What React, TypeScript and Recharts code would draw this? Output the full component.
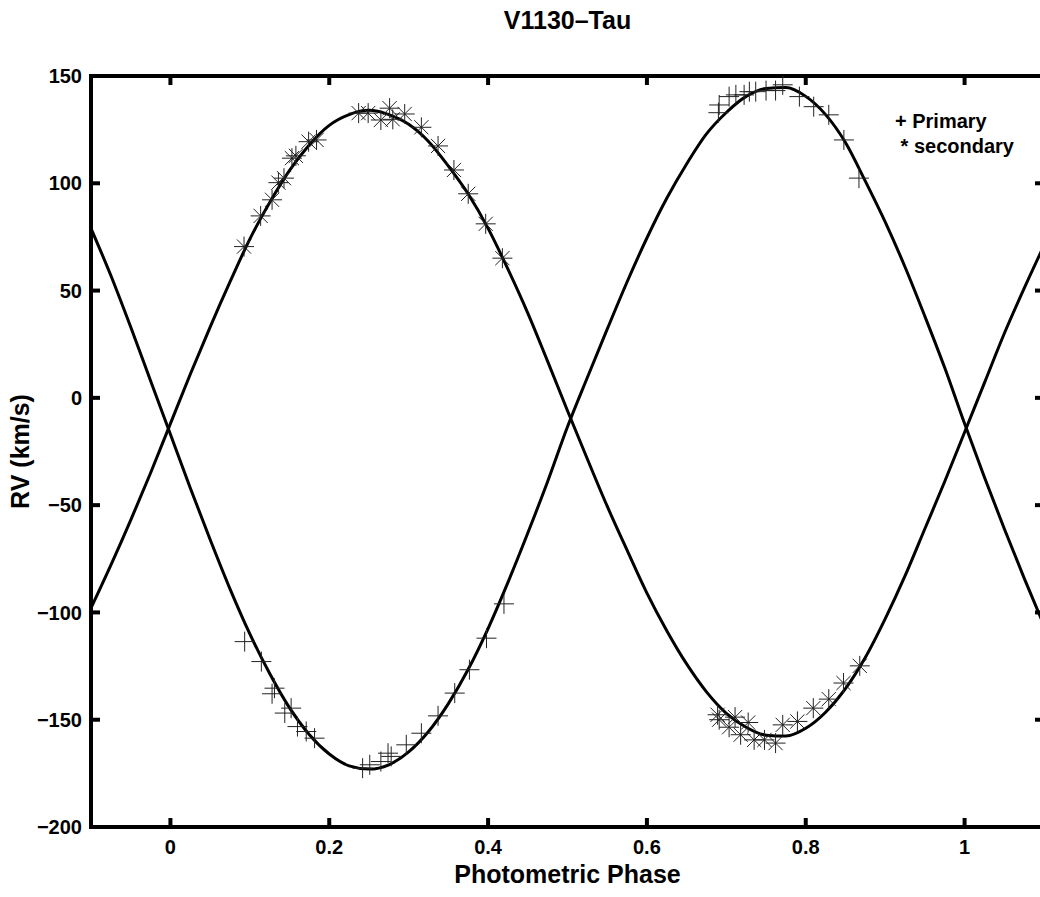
import { ComposedChart, Line, Scatter, XAxis, YAxis, Legend } from 'recharts';

// fitted RV curves, every 0.025 in phase
const FIT_PHASE = [
  -0.1, -0.075, -0.05, -0.025, 0, 0.025, 0.05, 0.075, 0.1, 0.125, 0.15, 0.175, 0.2,
  0.225, 0.25, 0.275, 0.3, 0.325, 0.35, 0.375, 0.4, 0.425, 0.45, 0.475, 0.5, 0.525,
  0.55, 0.575, 0.6, 0.625, 0.65, 0.675, 0.7, 0.725, 0.75, 0.775, 0.8, 0.825, 0.85,
  0.875, 0.9, 0.925, 0.95, 0.975, 1, 1.025, 1.05, 1.075, 1.1
];
const PRIMARY_FIT = [
  79, 57, 33, 8, -17, -42, -66, -89, -110, -128.5, -144.5, -157, -166,
  -171.5, -173, -171, -165, -155.5, -142.5, -126.5, -107.5, -86, -63, -39, -13.5, 9.5,
  32, 54, 74.5, 93, 109, 123, 133, 140.5, 144.2, 144.6, 140.5, 132, 119,
  101, 82, 61, 38, 14, -12, -37, -61, -84, -106
];
const SECONDARY_FIT = [
  -98, -78, -57, -35, -12, 11, 33, 54, 74, 91, 106, 118, 127,
  132, 134, 132, 127.5, 119.5, 108, 95, 79, 60, 39.5, 17, -6, -28.5,
  -50.5, -71, -91, -108.5, -124, -137, -147, -153.5, -157.2, -157.6, -154, -146.5, -135.5,
  -121, -103, -83, -61, -39, -16, 7, 30, 51, 71
];

// observations, primary (+)
const PRIMARY_OBS_PHASE = [
  0.0935, 0.1145, 0.131, 0.128, 0.152, 0.144, 0.16, 0.171, 0.1815, 0.242, 0.251,
  0.265, 0.274, 0.278, 0.297, 0.316, 0.337, 0.358, 0.3765, 0.398, 0.42,
  0.69, 0.691, 0.7035, 0.712, 0.7224, 0.729, 0.737, 0.75, 0.762, 0.771, 0.792,
  0.81, 0.829, 0.848, 0.867
];
const PRIMARY_OBS_RV = [
  -113.6, -122.9, -135.3, -137.9, -144.6, -146.9, -153.2, -155.5, -158.6, -172.6, -171,
  -169.5, -165.6, -167.1, -161.7, -156.3, -148.2, -137.6, -126.7, -112, -96,
  132.9, 136.5, 140.4, 141.2, 141.2, 142.7, 142.7, 143.2, 143.2, 145.9, 140.4,
  135.7, 131.9, 120.2, 102.4
];

// observations, secondary (*)
const SECONDARY_OBS_PHASE = [
  0.0927, 0.1136, 0.128, 0.136, 0.143, 0.153, 0.158, 0.174, 0.184, 0.237, 0.249,
  0.265, 0.276, 0.28, 0.295, 0.316, 0.337, 0.357, 0.375, 0.397, 0.418,
  0.689, 0.691, 0.7035, 0.711, 0.718, 0.7275, 0.735, 0.748, 0.762, 0.771, 0.7895,
  0.8095, 0.829, 0.8475, 0.868
];
const SECONDARY_OBS_RV = [
  70.5, 84.8, 92.3, 100.3, 102.4, 111.7, 112.8, 119.4, 120.2, 132.7, 132.7,
  129.5, 135, 129.8, 132.3, 126.1, 117.4, 106.2, 95.1, 81.1, 65.1,
  -147.7, -150, -153.5, -148.8, -157, -151.3, -159.4, -159.4, -160.9, -152.4, -150.8,
  -144.6, -140.4, -132.9, -124.9
];

const X_TICKS = [0, 0.2, 0.4, 0.6, 0.8, 1];
const Y_TICKS = [-200, -150, -100, -50, 0, 50, 100, 150];

const FONT = '"Liberation Sans", Arial, Helvetica, sans-serif';
const TICK_LEN = 9;

const fitData = FIT_PHASE.map((phase, i) => ({
  phase,
  primary: PRIMARY_FIT[i],
  secondary: SECONDARY_FIT[i]
}));
const primaryObs = PRIMARY_OBS_PHASE.map((phase, i) => ({ phase, rv: PRIMARY_OBS_RV[i] }));
const secondaryObs = SECONDARY_OBS_PHASE.map((phase, i) => ({ phase, rv: SECONDARY_OBS_RV[i] }));

const fmt = (v: number) => (v < 0 ? '\u2212' + Math.abs(v) : String(v));

const textStyle = { fontFamily: FONT, fontWeight: 'bold' as const, fill: '#000' };

// ticks point inward, labels outside
const BottomTick = ({ x, y, payload }: any) => (
  <g>
    <line x1={x} x2={x} y1={y} y2={y - TICK_LEN} stroke="#000" strokeWidth={4} />
    <text x={x} y={y + 27} textAnchor="middle" fontSize={20} style={textStyle}>
      {fmt(payload.value)}
    </text>
  </g>
);
const TopTick = ({ x, y }: any) => (
  <line x1={x} x2={x} y1={y} y2={y + TICK_LEN} stroke="#000" strokeWidth={4} />
);
const LeftTick = ({ x, y, payload }: any) => (
  <g>
    <line x1={x} x2={x + TICK_LEN} y1={y} y2={y} stroke="#000" strokeWidth={4} />
    <text x={x - 9} y={y} dy="0.36em" textAnchor="end" fontSize={20} style={textStyle}>
      {fmt(payload.value)}
    </text>
  </g>
);
const RightTick = ({ x, y }: any) => (
  <line x1={x} x2={x - TICK_LEN} y1={y} y2={y} stroke="#000" strokeWidth={4} />
);

const PlusMark = ({ cx, cy }: any) => (
  <path
    d={`M${cx - 10},${cy}H${cx + 10}M${cx},${cy - 10}V${cy + 10}`}
    stroke="#222"
    strokeWidth={1}
    fill="none"
  />
);
const StarMark = ({ cx, cy }: any) => {
  const r = 10;
  const d = 7.1;
  return (
    <path
      d={`M${cx - r},${cy}H${cx + r}M${cx},${cy - r}V${cy + r}` +
        `M${cx - d},${cy - d}L${cx + d},${cy + d}M${cx - d},${cy + d}L${cx + d},${cy - d}`}
      stroke="#222"
      strokeWidth={1}
      fill="none"
    />
  );
};

const LegendBox = () => (
  <div
    style={{
      fontFamily: FONT,
      fontWeight: 'bold',
      fontSize: 20,
      lineHeight: '25px',
      whiteSpace: 'pre',
      color: '#000'
    }}
  >
    <div>+ Primary</div>
    <div> * secondary</div>
  </div>
);

const axisLine = { stroke: '#000', strokeWidth: 4, strokeLinecap: 'square' as const };

export default function App() {
  return (
    <div style={{ position: 'absolute', left: 0, top: 0, width: 1040, height: 897, overflow: 'hidden', background: '#fff' }}>
      <ComposedChart
        width={1060}
        height={897}
        data={fitData}
        margin={{ top: 46, right: 0, bottom: 0, left: 0 }}
      >
        <XAxis
          dataKey="phase"
          type="number"
          domain={[-0.1, 1.1]}
          ticks={X_TICKS}
          allowDataOverflow
          height={70}
          axisLine={axisLine}
          tickLine={false}
          tickSize={0}
          tickMargin={0}
          tick={<BottomTick />}
          interval={0}
          label={{
            value: 'Photometric Phase',
            position: 'insideBottom',
            offset: 14,
            style: { ...textStyle, fontSize: 25 }
          }}
        />
        <XAxis
          xAxisId="top"
          orientation="top"
          dataKey="phase"
          type="number"
          domain={[-0.1, 1.1]}
          ticks={X_TICKS}
          allowDataOverflow
          height={30}
          axisLine={axisLine}
          tickLine={false}
          tickSize={0}
          tickMargin={0}
          tick={<TopTick />}
          interval={0}
          label={{
            value: 'V1130\u2013Tau',
            position: 'top',
            offset: 17,
            style: { ...textStyle, fontSize: 25 }
          }}
        />
        <YAxis
          type="number"
          domain={[-200, 150]}
          ticks={Y_TICKS}
          allowDataOverflow
          width={91}
          axisLine={axisLine}
          tickLine={false}
          tickSize={0}
          tickMargin={0}
          tick={<LeftTick />}
          interval={0}
          label={{
            value: 'RV (km/s)',
            angle: -90,
            position: 'insideLeft',
            offset: 20,
            style: { ...textStyle, fontSize: 25, textAnchor: 'middle' }
          }}
        />
        <YAxis
          yAxisId="right"
          orientation="right"
          type="number"
          domain={[-200, 150]}
          ticks={Y_TICKS}
          allowDataOverflow
          width={16}
          axisLine={axisLine}
          tickLine={false}
          tickSize={0}
          tickMargin={0}
          tick={<RightTick />}
          interval={0}
        />
        <Legend
          layout="vertical"
          align="center"
          verticalAlign="middle"
          content={<LegendBox />}
          wrapperStyle={{ position: 'absolute', left: 895, top: 109, width: 'auto', height: 'auto' }}
        />
        <Line
          dataKey="primary"
          type="monotone"
          stroke="#000"
          strokeWidth={3}
          dot={false}
          activeDot={false}
          isAnimationActive={false}
        />
        <Line
          dataKey="secondary"
          type="monotone"
          stroke="#000"
          strokeWidth={3}
          dot={false}
          activeDot={false}
          isAnimationActive={false}
        />
        <Scatter data={primaryObs} dataKey="rv" shape={<PlusMark />} isAnimationActive={false} />
        <Scatter data={secondaryObs} dataKey="rv" shape={<StarMark />} isAnimationActive={false} />
      </ComposedChart>
    </div>
  );
}
